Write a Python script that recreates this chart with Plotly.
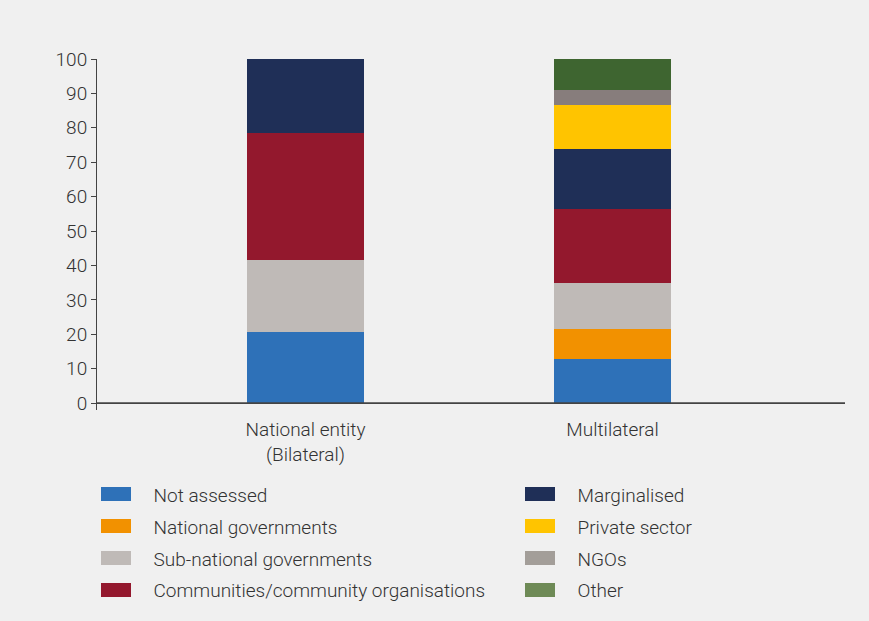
import plotly.graph_objects as go

# ---- data ----
categories = ["National entity<br>(Bilateral)", "Multilateral"]
cat_pos = [0, 1]

not_assessed = [20.6, 12.8]
national_governments = [0.0, 8.7]
subnational_governments = [21.0, 13.4]
communities = [36.9, 21.5]
marginalised = [21.5, 17.4]
private_sector = [0.0, 12.8]
ngos = [0.0, 4.4]
other = [0.0, 9.0]

y_ticks = [0, 10, 20, 30, 40, 50, 60, 70, 80, 90, 100]

series = [
    ("Not assessed", not_assessed, "#2E71B8", "#2E71B8", "legend"),
    ("National governments", national_governments, "#F29100", "#F29100", "legend"),
    ("Sub-national governments", subnational_governments, "#BFBAB7", "#BFBAB7", "legend"),
    ("Communities/community organisations", communities, "#93182D", "#93182D", "legend"),
    ("Marginalised", marginalised, "#1F2F57", "#1F2F57", "legend2"),
    ("Private sector", private_sector, "#FFC400", "#FFC400", "legend2"),
    ("NGOs", ngos, "#877D7C", "#A39E99", "legend2"),
    ("Other", other, "#3E6530", "#6E8A56", "legend2"),
]

FONT = "Roboto, 'Open Sans', sans-serif"
TXT = "#333333"
BG = "#F0F0F0"
FS = 19
NBSP = "\u00a0" * 4

W, H = 869, 621
ML, MR, MT, MB = 97, 24, 59, 211
PW, PH = W - ML - MR, H - MT - MB


def px_to_paper_x(px):
    return (px - ML) / PW


def px_to_paper_y(py):
    return (H - MB - py) / PH


fig = go.Figure()
for name, vals, bar_col, leg_col, leg in series:
    fig.add_trace(go.Bar(
        x=cat_pos, y=vals, name=name, width=0.381,
        marker=dict(color=bar_col, line=dict(width=0)),
        showlegend=False, hoverinfo="name+y",
    ))

# legend entries (text from the legend, swatches drawn as 30x14 rectangles)
row_centers = [494, 526, 558, 590]
col_swatch_x = {"legend": 101, "legend2": 525}
counts = {"legend": 0, "legend2": 0}
for i, (name, vals, bar_col, leg_col, leg) in enumerate(series):
    fig.add_trace(go.Scatter(
        x=[0], y=[0], mode="lines", name=NBSP + name,
        line=dict(color="rgba(0,0,0,0)", width=1),
        legend=leg, legendgroup="g%d" % i, showlegend=True,
        hoverinfo="skip",
    ))
    r = counts[leg]
    counts[leg] += 1
    sx = col_swatch_x[leg]
    cy = row_centers[r]
    fig.add_shape(type="rect", xref="paper", yref="paper", layer="above",
                  x0=px_to_paper_x(sx), x1=px_to_paper_x(sx + 30),
                  y0=px_to_paper_y(cy + 7), y1=px_to_paper_y(cy - 7),
                  fillcolor=leg_col, line=dict(width=0))

fig.add_shape(type="line", xref="paper", yref="y", x0=0, x1=1, y0=0, y1=0,
              line=dict(color="#444444", width=1.6))

legend_common = dict(
    orientation="v", xanchor="left", yanchor="top",
    bgcolor="rgba(0,0,0,0)", borderwidth=0,
    font=dict(family=FONT, size=FS, color=TXT, weight=300),
    itemwidth=30, traceorder="grouped", tracegroupgap=4,
    itemclick=False, itemdoubleclick=False,
)

fig.update_layout(
    width=W, height=H,
    paper_bgcolor=BG, plot_bgcolor=BG,
    margin=dict(l=ML, r=MR, t=MT, b=MB, autoexpand=False),
    barmode="stack",
    font=dict(family=FONT, size=FS, color=TXT, weight=300),
    xaxis=dict(
        range=[-0.679, 1.757], tickvals=cat_pos, ticktext=categories,
        showline=False, showgrid=False, zeroline=False, ticks="",
        tickangle=0, ticklabelstandoff=6,
        tickfont=dict(family=FONT, size=FS, color=TXT, weight=300),
    ),
    yaxis=dict(
        range=[-2, 100], tickvals=y_ticks, ticktext=[str(v) for v in y_ticks],
        showline=True, linecolor="#444444", linewidth=1,
        ticks="outside", ticklen=5, tickcolor="#444444", tickwidth=1,
        showgrid=False, zeroline=False,
        tickfont=dict(family=FONT, size=FS, color=TXT, weight=300),
    ),
    legend=dict(x=px_to_paper_x(95), y=px_to_paper_y(476), **legend_common),
    legend2=dict(x=px_to_paper_x(519), y=px_to_paper_y(476), **legend_common),
)

fig.write_html(
    "out.html",
    config={"displayModeBar": False},
    post_script="document.body.style.margin='0';document.body.style.background='#F0F0F0';",
)
